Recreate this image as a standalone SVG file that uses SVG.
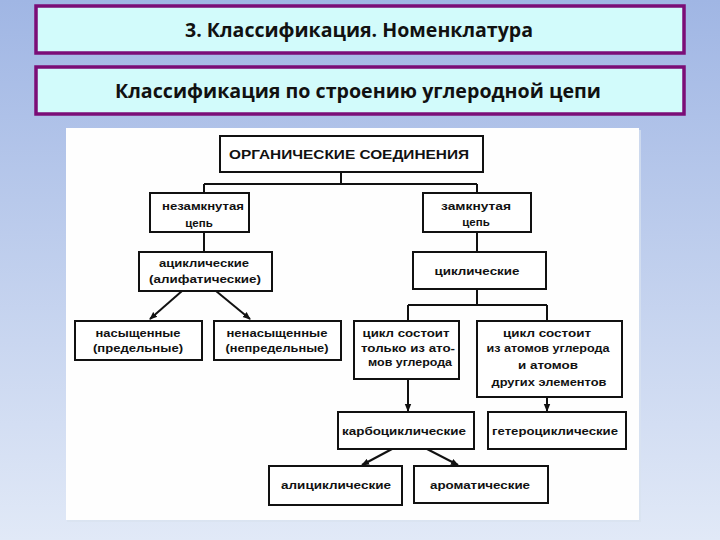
<svg xmlns="http://www.w3.org/2000/svg" width="720" height="540" viewBox="0 0 720 540">
<defs>
<linearGradient id="bg" x1="0" y1="0" x2="0" y2="1">
<stop offset="0" stop-color="#a0b6e4"/>
<stop offset="1" stop-color="#e1e9f7"/>
</linearGradient>
<marker id="ah" markerWidth="8" markerHeight="8" refX="7" refY="4" orient="auto" markerUnits="userSpaceOnUse">
<path d="M0,0.8 L8,4 L0,7.2 Z" fill="#111"/>
</marker>
<style>
.title{fill:#d2fbfb;stroke:#7b0d77;stroke-width:3.5}
.tt{font-family:"Open Sans","Noto Sans","Liberation Sans",sans-serif;font-weight:700;font-size:19px;fill:#111;text-anchor:middle}
.box{fill:#fff;stroke:#111;stroke-width:2}
.t{font-family:"Liberation Sans","DejaVu Sans",sans-serif;font-weight:bold;font-size:11.5px;fill:#111;text-anchor:middle}
.big{font-size:13px}
.c{fill:none;stroke:#111;stroke-width:2}
</style>
</defs>
<rect width="720" height="540" fill="url(#bg)"/>
<g id="title1">
<rect class="title" x="36" y="6" width="648" height="47"/>
<text class="tt" x="359" y="37" textLength="348" lengthAdjust="spacingAndGlyphs">3. Классификация. Номенклатура</text>
</g>
<g id="title2">
<rect class="title" x="36" y="67" width="648" height="47"/>
<text class="tt" x="358" y="98" textLength="486" lengthAdjust="spacingAndGlyphs">Классификация по строению углеродной цепи</text>
</g>
<rect x="67" y="130" width="574" height="392" fill="#d8e2f0" opacity="0.7"/>
<rect id="panel" x="66" y="128" width="573" height="392" fill="#fefefe"/>
<g id="connectors">
<path class="c" d="M341,172 V184 M204,184 H477 M204,184 V193 M477,184 V193"/>
<path class="c" d="M204,232 V252 M477,232 V252"/>
<path class="c" d="M477,289 V305 M408,305 H547 M408,305 V321 M547,305 V321"/>
<path class="c" d="M182,291 L150,319" marker-end="url(#ah)"/>
<path class="c" d="M216,291 L250,319" marker-end="url(#ah)"/>
<path class="c" d="M408,379 V411" marker-end="url(#ah)"/>
<path class="c" d="M547,397 V411" marker-end="url(#ah)"/>
<path class="c" d="M392,449 L362,465" marker-end="url(#ah)"/>
<path class="c" d="M427,449 L458,465" marker-end="url(#ah)"/>
</g>
<g id="n_org">
<rect class="box" x="220" y="136" width="263" height="36"/>
<text class="t big" x="349" y="159" textLength="240" lengthAdjust="spacingAndGlyphs">ОРГАНИЧЕСКИЕ СОЕДИНЕНИЯ</text>
</g>
<g id="n_open">
<rect class="box" x="150" y="193" width="99" height="39"/>
<text class="t" x="203" y="210" textLength="82" lengthAdjust="spacingAndGlyphs">незамкнутая</text>
<text class="t" x="199" y="227">цепь</text>
</g>
<g id="n_closed">
<rect class="box" x="423" y="193" width="108" height="39"/>
<text class="t" x="476" y="210" textLength="70" lengthAdjust="spacingAndGlyphs">замкнутая</text>
<text class="t" x="476" y="226">цепь</text>
</g>
<g id="n_acyclic">
<rect class="box" x="139" y="252" width="133" height="39"/>
<text class="t" x="204" y="267" textLength="90" lengthAdjust="spacingAndGlyphs">ациклические</text>
<text class="t" x="205" y="283" textLength="112" lengthAdjust="spacingAndGlyphs">(алифатические)</text>
</g>
<g id="n_cyclic">
<rect class="box" x="413" y="252" width="133" height="37"/>
<text class="t" x="477" y="275" textLength="85" lengthAdjust="spacingAndGlyphs">циклические</text>
</g>
<g id="n_sat">
<rect class="box" x="75" y="321" width="127" height="39"/>
<text class="t" x="138" y="337" textLength="85" lengthAdjust="spacingAndGlyphs">насыщенные</text>
<text class="t" x="138" y="352" textLength="90" lengthAdjust="spacingAndGlyphs">(предельные)</text>
</g>
<g id="n_unsat">
<rect class="box" x="214" y="321" width="127" height="39"/>
<text class="t" x="277" y="337" textLength="101" lengthAdjust="spacingAndGlyphs">ненасыщенные</text>
<text class="t" x="277" y="352" textLength="103" lengthAdjust="spacingAndGlyphs">(непредельные)</text>
</g>
<g id="n_conly">
<rect class="box" x="354" y="321" width="105" height="58"/>
<text class="t" x="406" y="337" textLength="87" lengthAdjust="spacingAndGlyphs">цикл состоит</text>
<text class="t" x="408" y="352" textLength="94" lengthAdjust="spacingAndGlyphs">только из ато-</text>
<text class="t" x="410" y="366" textLength="84" lengthAdjust="spacingAndGlyphs">мов углерода</text>
</g>
<g id="n_cother">
<rect class="box" x="477" y="321" width="145" height="76"/>
<text class="t" x="547" y="337" textLength="88" lengthAdjust="spacingAndGlyphs">цикл состоит</text>
<text class="t" x="548" y="352" textLength="123" lengthAdjust="spacingAndGlyphs">из атомов углерода</text>
<text class="t" x="548" y="369" textLength="60" lengthAdjust="spacingAndGlyphs">и атомов</text>
<text class="t" x="549" y="386" textLength="115" lengthAdjust="spacingAndGlyphs">других элементов</text>
</g>
<g id="n_carbo">
<rect class="box" x="338" y="412" width="136" height="37"/>
<text class="t" x="404" y="435" textLength="124" lengthAdjust="spacingAndGlyphs">карбоциклические</text>
</g>
<g id="n_hetero">
<rect class="box" x="488" y="412" width="138" height="37"/>
<text class="t" x="555" y="435" textLength="126" lengthAdjust="spacingAndGlyphs">гетероциклические</text>
</g>
<g id="n_alicyc">
<rect class="box" x="269" y="466" width="133" height="39"/>
<text class="t" x="336" y="489" textLength="110" lengthAdjust="spacingAndGlyphs">алициклические</text>
</g>
<g id="n_arom">
<rect class="box" x="414" y="466" width="134" height="37"/>
<text class="t" x="480" y="489" textLength="100" lengthAdjust="spacingAndGlyphs">ароматические</text>
</g>
</svg>
